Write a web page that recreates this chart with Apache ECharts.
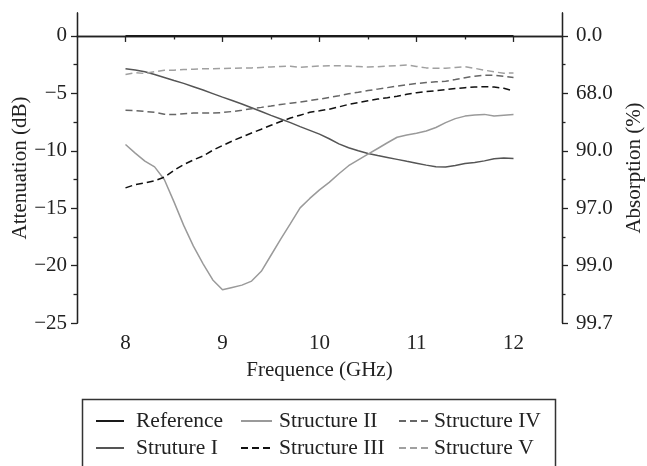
<!DOCTYPE html>
<html>
<head>
<meta charset="utf-8">
<script src="https://cdn.jsdelivr.net/npm/echarts@6/dist/echarts.min.js"></script>
<style>
html,body{margin:0;padding:0;background:#fff;}
#c{width:647px;height:466px;}
</style>
</head>
<body>
<div id="c"></div>
<script>
// ---- data ----
const freq = [8.0,8.1,8.2,8.3,8.4,8.5,8.6,8.7,8.8,8.9,9.0,9.1,9.2,9.3,9.4,9.5,9.6,9.7,9.8,9.9,10.0,10.1,10.2,10.3,10.4,10.5,10.6,10.7,10.8,10.9,11.0,11.1,11.2,11.3,11.4,11.5,11.6,11.7,11.8,11.9,12.0];
const reference = [0,0,0,0,0,0,0,0,0,0,0,0,0,0,0,0,0,0,0,0,0,0,0,0,0,0,0,0,0,0,0,0,0,0,0,0,0,0,0,0,0];
const struture1 = [-2.85,-2.97,-3.12,-3.36,-3.62,-3.88,-4.13,-4.42,-4.71,-5.02,-5.33,-5.62,-5.92,-6.25,-6.58,-6.92,-7.23,-7.55,-7.9,-8.22,-8.55,-8.95,-9.4,-9.74,-10.0,-10.24,-10.42,-10.58,-10.75,-10.92,-11.08,-11.25,-11.4,-11.42,-11.28,-11.1,-11.02,-10.88,-10.7,-10.62,-10.67];
const structure2 = [-9.45,-10.2,-10.9,-11.4,-12.5,-14.45,-16.5,-18.3,-19.85,-21.25,-22.1,-21.9,-21.7,-21.35,-20.5,-19.1,-17.7,-16.35,-14.97,-14.15,-13.4,-12.75,-12.0,-11.3,-10.8,-10.3,-9.8,-9.3,-8.82,-8.62,-8.48,-8.28,-7.97,-7.55,-7.2,-6.98,-6.88,-6.83,-6.97,-6.9,-6.84];
const structure3 = [-13.23,-12.95,-12.8,-12.62,-12.3,-11.7,-11.2,-10.8,-10.45,-9.95,-9.55,-9.15,-8.8,-8.45,-8.12,-7.78,-7.45,-7.15,-6.9,-6.65,-6.52,-6.38,-6.18,-5.96,-5.8,-5.64,-5.5,-5.38,-5.25,-5.08,-4.94,-4.85,-4.77,-4.68,-4.58,-4.5,-4.44,-4.42,-4.45,-4.56,-4.8];
const structure4 = [-6.48,-6.5,-6.57,-6.65,-6.82,-6.85,-6.77,-6.72,-6.7,-6.7,-6.67,-6.58,-6.47,-6.33,-6.22,-6.1,-5.97,-5.86,-5.76,-5.62,-5.5,-5.36,-5.2,-5.03,-4.9,-4.76,-4.63,-4.5,-4.37,-4.25,-4.14,-4.05,-3.99,-3.94,-3.8,-3.63,-3.5,-3.43,-3.43,-3.52,-3.62];
const structure5 = [-3.35,-3.2,-3.27,-3.12,-2.98,-2.98,-2.92,-2.9,-2.86,-2.85,-2.84,-2.82,-2.8,-2.78,-2.74,-2.7,-2.66,-2.63,-2.74,-2.68,-2.62,-2.6,-2.6,-2.62,-2.66,-2.7,-2.68,-2.62,-2.58,-2.53,-2.65,-2.78,-2.82,-2.82,-2.74,-2.67,-2.82,-2.98,-3.12,-3.25,-3.22];
const seriesNames = ['Reference','Struture I','Structure II','Structure III','Structure IV','Structure V'];
const xMajorTicks = [8,9,10,11,12];
const xMinorTicks = [8.5,9.5,10.5,11.5];
const yMajorTicks = [-25,-20,-15,-10,-5,0];
const yMinorTicks = [-22.5,-17.5,-12.5,-7.5,-2.5];
const absorptionLabels = ['99.7','99.0','97.0','90.0','68.0','0.0'];

// ---- chart ----
const FONT = 'Liberation Serif';
const FS = 21;
const INK = '#222';
const pair = s => freq.map((f, i) => [f, s[i]]);
const values = [reference, struture1, structure2, structure3, structure4, structure5];
const styles = [
  {color:'#1a1a1a', width:1.8, type:'solid'},
  {color:'#555555', width:1.5, type:'solid'},
  {color:'#9a9a9a', width:1.5, type:'solid'},
  {color:'#111111', width:1.5, type:[7,4]},
  {color:'#666666', width:1.5, type:[7,4]},
  {color:'#a0a0a0', width:1.5, type:[7,4]}
];
const minus = v => (v < 0 ? '\u2212' + Math.abs(v) : String(v));
const lineAx = {show:true, lineStyle:{color:INK, width:1.3}};
const baseX = {type:'value', min:7.5, max:12.5, position:'bottom', splitLine:{show:false}, axisLine:lineAx};
const baseY = {type:'value', min:-25, max:2, splitLine:{show:false}, axisLine:lineAx};
const txt = {fontFamily:FONT, fontSize:FS, color:INK};

const legendCol = (names, left, w, pad) => ({
  orient:'vertical', left:left, top:410, itemWidth:w, itemHeight:14, itemGap:5,
  padding:0,
  itemStyle:{opacity:0},
  textStyle:{fontFamily:FONT, fontSize:21.5, color:INK, lineHeight:22, padding:[0,0,0,pad]},
  data:names
});

const option = {
  animation:false,
  backgroundColor:'#fff',
  grid:{left:77, top:13, width:485, height:310, containLabel:false, outerBoundsMode:'none'},
  xAxis:[
    Object.assign({}, baseX, {
      axisTick:{show:true, length:6, inside:false, customValues:xMajorTicks, lineStyle:{color:INK, width:1.3}},
      axisLabel:Object.assign({customValues:xMajorTicks, margin:10}, txt),
      name:'Frequence (GHz)', nameLocation:'middle', nameGap:37, nameMoveOverlap:false,
      nameTextStyle:txt
    }),
    Object.assign({}, baseX, {
      axisTick:{show:true, length:3.5, customValues:xMinorTicks, lineStyle:{color:INK, width:1.3}},
      axisLabel:{show:false}
    })
  ],
  yAxis:[
    Object.assign({}, baseY, {
      position:'left',
      axisTick:{show:true, length:6, customValues:yMajorTicks, lineStyle:{color:INK, width:1.3}},
      axisLabel:Object.assign({customValues:yMajorTicks, formatter:minus, margin:10}, txt),
      name:'Attenuation (dB)', nameLocation:'middle', nameGap:46, nameRotate:90, nameMoveOverlap:false,
      nameTextStyle:txt
    }),
    Object.assign({}, baseY, {
      position:'left',
      axisTick:{show:true, length:3.5, customValues:yMinorTicks, lineStyle:{color:INK, width:1.3}},
      axisLabel:{show:false}
    }),
    Object.assign({}, baseY, {
      position:'right',
      axisTick:{show:true, length:6, customValues:yMajorTicks, lineStyle:{color:INK, width:1.3}},
      axisLabel:Object.assign({customValues:yMajorTicks, formatter:v => absorptionLabels[yMajorTicks.indexOf(v)], margin:14}, txt),
      name:'Absorption (%)', nameLocation:'middle', nameGap:62, nameRotate:90, nameMoveOverlap:false,
      nameTextStyle:txt
    }),
    Object.assign({}, baseY, {
      position:'right',
      axisTick:{show:true, length:3.5, customValues:yMinorTicks, lineStyle:{color:INK, width:1.3}},
      axisLabel:{show:false}
    })
  ],
  legend:[
    legendCol([seriesNames[0], seriesNames[1]], 95, 28, 7),
    legendCol([seriesNames[2], seriesNames[3]], 240, 31, 2),
    legendCol([seriesNames[4], seriesNames[5]], 398, 30, 0)
  ],
  graphic:[{
    type:'rect', left:80, top:397, z:-1,
    shape:{width:473, height:100},
    style:{fill:'none', stroke:'#333', lineWidth:1.5}
  }],
  series: seriesNames.map((n, i) => ({
    name:n, type:'line', xAxisIndex:0, yAxisIndex:0,
    data:pair(values[i]), showSymbol:false, symbol:'none', smooth:false,
    lineStyle:styles[i], itemStyle:{color:styles[i].color}
  }))
};

const chart = echarts.init(document.getElementById('c'), null, {renderer:'canvas'});
chart.setOption(option);
</script>
</body>
</html>
